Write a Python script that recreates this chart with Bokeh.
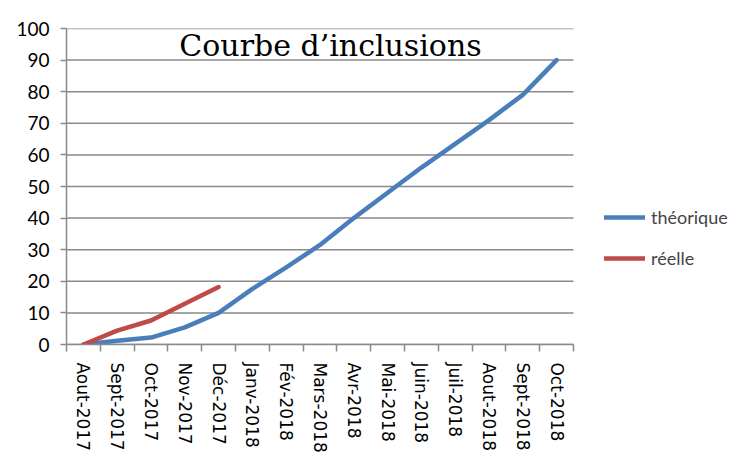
from bokeh.plotting import figure
from bokeh.models import FixedTicker, Legend, LegendItem, Label, Range1d
from bokeh.embed import file_html
from bokeh.resources import INLINE

months = ["Aout-2017", "Sept-2017", "Oct-2017", "Nov-2017", "Déc-2017", "Janv-2018",
          "Fév-2018", "Mars-2018", "Avr-2018", "Mai-2018", "Juin-2018", "Juil-2018",
          "Aout-2018", "Sept-2018", "Oct-2018"]
theorique = [0, 1.2, 2.2, 5.4, 10, 17.6, 24.4, 31.5, 40, 48, 56, 63.5, 71, 79, 90]
reelle = [0, 4.4, 7.6, 12.9, 18.2]
y_ticks = list(range(0, 101, 10))
title_text = "Courbe d\u2019inclusions"

BLUE = "#4A7EBB"
RED = "#BE4B48"
GRID = "#8a8a8a"

W, H = 739, 466
LEFT, TOP, BOTTOM = 66, 28, 122
PLOT_W = 507                      # width of the category area
FRAME_W = W - LEFT                # frame extends under the legend
n = len(months)
x_end = n * FRAME_W / PLOT_W

xs_t = [i + 0.5 for i in range(len(theorique))]
xs_r = [i + 0.5 for i in range(len(reelle))]

p = figure(width=W, height=H, output_backend="svg", toolbar_location=None,
           x_range=Range1d(0, x_end), y_range=Range1d(0, 100),
           min_border_left=LEFT, min_border_right=0, min_border_top=TOP,
           min_border_bottom=BOTTOM)
p.outline_line_color = None
p.background_fill_color = "white"
p.border_fill_color = "white"

# horizontal gridlines only across the category area
p.segment(x0=[0] * len(y_ticks), x1=[n] * len(y_ticks), y0=y_ticks, y1=y_ticks,
          line_color=GRID, line_width=1.5)
p.xgrid.grid_line_color = None
p.ygrid.grid_line_color = None

r_t = p.line(xs_t, theorique, line_color=BLUE, line_width=4.5, line_join="round", line_cap="round")
r_r = p.line(xs_r, reelle, line_color=RED, line_width=4.5, line_join="round", line_cap="round")

# x axis: labels at category centres, ticks at category boundaries
xa = p.xaxis[0]
xa.bounds = (0, n)
xa.ticker = FixedTicker(ticks=xs_t, minor_ticks=list(range(n + 1)))
xa.major_label_overrides = {x: m for x, m in zip(xs_t, months)}
xa.major_label_orientation = "vertical"
xa.major_tick_line_color = None
xa.major_tick_out = 0
xa.major_tick_in = 0
xa.minor_tick_line_color = GRID
xa.minor_tick_line_width = 1.5
xa.minor_tick_out = 7
xa.minor_tick_in = 0
xa.axis_line_color = GRID
xa.axis_line_width = 1.5
xa.major_label_text_font = "DejaVu Sans"
xa.major_label_text_font_size = "17px"
xa.major_label_text_color = "black"
xa.major_label_standoff = 11

ya = p.yaxis[0]
ya.ticker = FixedTicker(ticks=y_ticks)
ya.minor_tick_line_color = None
ya.major_tick_line_color = GRID
ya.major_tick_line_width = 1.5
ya.major_tick_out = 6
ya.major_tick_in = 0
ya.axis_line_color = GRID
ya.axis_line_width = 1.5
ya.major_label_text_font = "Lato"
ya.major_label_text_font_size = "19px"
ya.major_label_text_color = "black"
ya.major_label_standoff = 11

title = Label(x=7.81, y=94.7, text=title_text, text_font="DejaVu Serif",
              text_font_size="30px", text_align="center", text_baseline="alphabetic",
              text_color="black")
p.add_layout(title)

legend = Legend(items=[LegendItem(label="théorique", renderers=[r_t]),
                       LegendItem(label="réelle", renderers=[r_r])],
                location=(538, 75), padding=0, margin=0, spacing=19,
                glyph_width=41, glyph_height=20, label_height=20,
                label_standoff=6, label_text_font="Lato", label_text_font_size="18px",
                border_line_color=None, background_fill_alpha=0)
p.add_layout(legend)

open("out.html", "w").write(file_html(p, INLINE))
